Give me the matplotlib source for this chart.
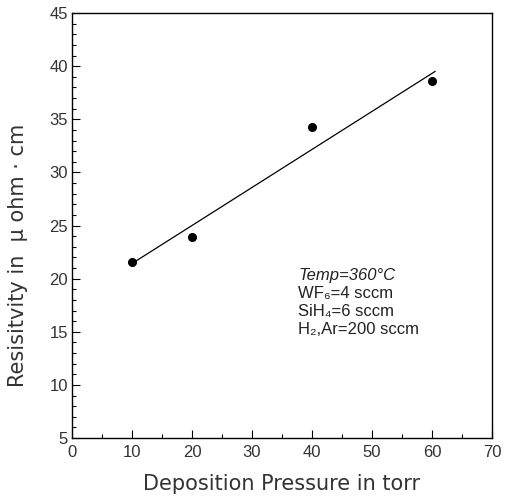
import numpy as np
import matplotlib
matplotlib.use('Agg')
from matplotlib import pyplot as plt
from matplotlib.ticker import MultipleLocator

plt.rcParams['font.family'] = ['Liberation Sans', 'DejaVu Sans']

# measured points
pressure = [10, 20, 40, 60]
resistivity = [21.6, 23.9, 34.3, 38.6]

# fitted line as drawn in the figure
fit_x = [10.5, 60.5]
fit_y = [21.6, 39.5]

conditions = ['Temp=360°C', 'WF₆=4 sccm', 'SiH₄=6 sccm', 'H₂,Ar=200 sccm']

fig = plt.figure(figsize=(5.08, 5.00), dpi=100)
ax = fig.add_axes([0.1417, 0.124, 0.827, 0.850])

ax.plot(fit_x, fit_y, color='black', lw=0.9)
ax.plot(pressure, resistivity, 'o', color='black', ms=5.5)

ax.set_xlim(0, 70)
ax.set_ylim(5, 45)
ax.xaxis.set_major_locator(MultipleLocator(10))
ax.xaxis.set_minor_locator(MultipleLocator(5))
ax.yaxis.set_major_locator(MultipleLocator(5))
ax.yaxis.set_minor_locator(MultipleLocator(1))
ax.tick_params(which='both', direction='in', color='black', labelcolor='#333333', labelsize=12)
ax.tick_params(axis='x', which='major', length=6, width=0.8, pad=5)
ax.tick_params(axis='y', which='major', length=6, width=0.8, pad=3)
ax.tick_params(which='minor', length=3, width=0.8)
for s in ax.spines.values():
    s.set_linewidth(1.0)

lab_font = dict(fontsize=15, color='#333333', family=['DejaVu Sans'])
ax.set_xlabel('Deposition Pressure in torr', **lab_font)
ax.set_ylabel('Resisitvity in  μ ohm · cm', **lab_font)
ax.xaxis.set_label_coords(0.50, -0.085)
ax.yaxis.set_label_coords(-0.105, 0.43)

for i, c in enumerate(conditions):
    ax.text(37.7, 20.3 - i * 1.7, c, fontsize=12, color='#222222',
            style='italic' if i == 0 else 'normal', va='center')

fig.savefig('out.png', dpi=100)
